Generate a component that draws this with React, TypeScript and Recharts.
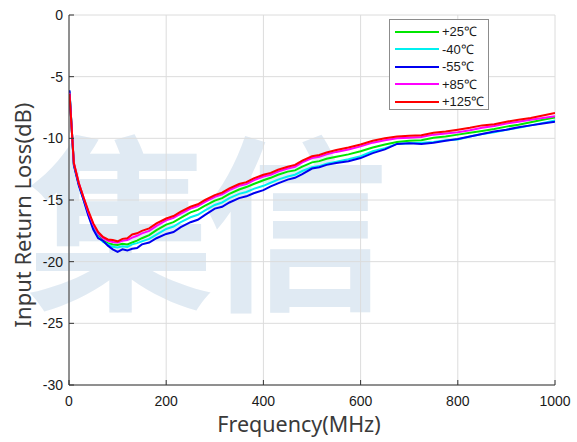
import React from 'react';
import { LineChart, Line, XAxis, YAxis, CartesianGrid, Legend } from 'recharts';

// Frequency (MHz)
const freqs = [1, 10, 20, 30, 40, 50, 60, 70, 80, 90, 100, 110, 120, 130, 140, 150, 165, 180, 200, 215, 230, 250, 265, 280, 300, 315, 330, 350, 365, 380, 400, 415, 430, 450, 465, 480, 500, 515, 530, 550, 575, 600, 625, 650, 675, 700, 725, 750, 775, 800, 825, 850, 875, 900, 925, 950, 975, 1000];

// Input return loss (dB) per temperature
const p25 = [-6.2, -12.1, -13.7, -14.9, -16.1, -17.1, -17.8, -18.3, -18.5, -18.6, -18.65, -18.55, -18.6, -18.45, -18.3, -18.1, -17.85, -17.45, -17.0, -16.8, -16.45, -16.0, -15.8, -15.45, -15.05, -14.85, -14.5, -14.15, -13.95, -13.7, -13.4, -13.2, -12.95, -12.7, -12.6, -12.3, -11.95, -11.85, -11.65, -11.5, -11.3, -11.05, -10.75, -10.5, -10.3, -10.2, -10.15, -9.95, -9.85, -9.7, -9.55, -9.4, -9.25, -9.05, -8.9, -8.7, -8.5, -8.3];
const m40 = [-6.2, -12.1, -13.7, -15.0, -16.2, -17.3, -18.0, -18.4, -18.6, -18.8, -18.85, -18.75, -18.8, -18.6, -18.5, -18.35, -18.15, -17.8, -17.35, -17.15, -16.8, -16.4, -16.2, -15.85, -15.4, -15.2, -14.85, -14.5, -14.35, -14.1, -13.85, -13.6, -13.35, -13.1, -12.95, -12.65, -12.35, -12.25, -12.05, -11.9, -11.7, -11.45, -11.05, -10.8, -10.45, -10.4, -10.35, -10.3, -10.15, -10.1, -9.85, -9.65, -9.5, -9.3, -9.15, -8.95, -8.75, -8.55];
const m55 = [-6.1, -12.2, -13.8, -15.0, -16.3, -17.4, -18.1, -18.3, -18.7, -19.0, -19.2, -19.0, -19.1, -18.95, -18.9, -18.6, -18.45, -18.1, -17.75, -17.6, -17.2, -16.8, -16.6, -16.2, -15.7, -15.55, -15.2, -14.85, -14.7, -14.45, -14.2, -13.9, -13.65, -13.35, -13.2, -12.9, -12.45, -12.35, -12.15, -12.0, -11.85, -11.6, -11.2, -10.9, -10.45, -10.4, -10.45, -10.35, -10.2, -10.05, -9.85, -9.65, -9.45, -9.3, -9.1, -8.95, -8.8, -8.65];
const p85 = [-6.3, -12.0, -13.6, -14.8, -16.0, -17.0, -17.7, -18.1, -18.3, -18.4, -18.45, -18.3, -18.25, -18.05, -17.9, -17.7, -17.5, -17.1, -16.65, -16.45, -16.1, -15.7, -15.5, -15.15, -14.75, -14.55, -14.2, -13.85, -13.7, -13.4, -13.1, -12.95, -12.7, -12.45, -12.3, -11.95, -11.6, -11.5, -11.3, -11.1, -10.9, -10.65, -10.35, -10.15, -10.0, -9.95, -9.9, -9.7, -9.6, -9.5, -9.35, -9.15, -9.0, -8.8, -8.65, -8.5, -8.35, -8.2];
const p125 = [-6.4, -12.0, -13.6, -14.8, -15.9, -16.9, -17.6, -18.0, -18.2, -18.25, -18.35, -18.15, -18.1, -17.8, -17.7, -17.5, -17.3, -16.9, -16.5, -16.3, -15.95, -15.55, -15.35, -15.0, -14.6, -14.4, -14.05, -13.7, -13.55, -13.25, -12.95, -12.8, -12.55, -12.3, -12.15, -11.8, -11.45, -11.35, -11.15, -10.95, -10.75, -10.5, -10.2, -10.0, -9.85, -9.8, -9.75, -9.55, -9.45, -9.3, -9.15, -8.95, -8.85, -8.65, -8.5, -8.35, -8.15, -7.95];

const seriesNames = ['+25℃', '-40℃', '-55℃', '+85℃', '+125℃'];
const seriesValues = [p25, m40, m55, p85, p125];
const seriesColors = ['#00e600', '#00f0f0', '#0000f0', '#ff00ff', '#ff0000'];

const xTicks = [0, 200, 400, 600, 800, 1000];
const yTicks = [0, -5, -10, -15, -20, -25, -30];

const xTitle = 'Frequency(MHz)';
const yTitle = 'Input Return Loss(dB)';
const watermark = '集信';

const data = freqs.map((f, i) => {
  const row: Record<string, number> = { f };
  seriesValues.forEach((arr, k) => {
    row['s' + k] = arr[i];
  });
  return row;
});

const AXIS = '#333333';
const TICK_FONT = '"Liberation Sans", Arial, sans-serif';
const TITLE_FONT = '"Noto Sans", "Open Sans", sans-serif';
const TICK_LEN = 5;

const BottomTick = (props: any) => {
  const { x, y, payload } = props;
  const axisY = y - 11;
  return (
    <g>
      <line x1={x} x2={x} y1={axisY} y2={axisY - TICK_LEN} stroke={AXIS} />
      <text x={x} y={y} dy="0.71em" textAnchor="middle" fontSize={14} fill="#1a1a1a" fontFamily={TICK_FONT}>
        {payload.value}
      </text>
    </g>
  );
};

const TopTick = (props: any) => {
  const { x, y } = props;
  return <line x1={x} x2={x} y1={y} y2={y + TICK_LEN} stroke={AXIS} />;
};

const LeftTick = (props: any) => {
  const { x, y, payload } = props;
  const axisX = x + 6;
  return (
    <g>
      <line x1={axisX} x2={axisX + TICK_LEN} y1={y} y2={y} stroke={AXIS} />
      <text x={x} y={y} dy="0.355em" textAnchor="end" fontSize={14} fill="#1a1a1a" fontFamily={TICK_FONT}>
        {payload.value}
      </text>
    </g>
  );
};

const RightTick = (props: any) => {
  const { x, y } = props;
  return <line x1={x - TICK_LEN} x2={x} y1={y} y2={y} stroke={AXIS} />;
};

const XTitle = (props: any) => {
  const vb = props.viewBox || {};
  const cx = vb.x + vb.width / 2 - 13;
  return (
    <text x={cx} y={424} dy="0.35em" textAnchor="middle" fontSize={21.5} fill="#3a3a3a" fontFamily={TITLE_FONT}>
      {xTitle}
    </text>
  );
};

const YTitle = (props: any) => {
  const vb = props.viewBox || {};
  const cy = vb.y + vb.height / 2 + 15;
  return (
    <text x={23} y={cy} dy="0.35em" textAnchor="middle" fontSize={22} fill="#3a3a3a" fontFamily={TITLE_FONT} transform={`rotate(-90 23 ${cy})`}>
      {yTitle}
    </text>
  );
};

const LegendBox = (props: any) => {
  const payload = [...(props.payload || [])].sort(
    (a: any, b: any) => seriesNames.indexOf(a.value) - seriesNames.indexOf(b.value)
  );
  return (
    <div style={{ border: '1px solid #8c8c8c', background: '#fff', width: 100, height: 91, paddingTop: 3, boxSizing: 'border-box' }}>
      {payload.map((entry: any) => (
        <div key={entry.value} style={{ display: 'flex', alignItems: 'center', height: 17.5 }}>
          <svg width={52} height={10} style={{ flex: 'none' }}>
            <line x1={5} x2={49} y1={5} y2={5} stroke={entry.color} strokeWidth={2} />
          </svg>
          <span style={{ fontSize: 13, fontFamily: TICK_FONT, color: '#1a1a1a', lineHeight: '17px' }}>{entry.value}</span>
        </div>
      ))}
    </div>
  );
};

export default function App() {
  return (
    <div style={{ position: 'relative', width: 577, height: 442, background: '#fff' }}>
      <style>{'body{margin:0;}'}</style>
      <div
        style={{
          position: 'absolute',
          left: 27,
          top: 119,
          fontSize: 188,
          lineHeight: 1,
          letterSpacing: -14,
          fontFamily: '"Noto Sans CJK SC", sans-serif',
          fontWeight: 700,
          color: '#e0eaf3',
          whiteSpace: 'nowrap',
          userSelect: 'none',
        }}
      >
        {watermark}
      </div>
      <div style={{ position: 'absolute', left: 0, top: 0 }}>
        <LineChart width={577} height={442} data={data} margin={{ top: 15, right: 22, bottom: 0, left: 0 }}>
          <CartesianGrid stroke="#dcdcdc" strokeWidth={1} />
          <XAxis
            dataKey="f"
            type="number"
            domain={[0, 1000]}
            allowDataOverflow
            ticks={xTicks}
            interval={0}
            height={57}
            tickSize={0}
            tickMargin={11}
            tickLine={false}
            axisLine={{ stroke: AXIS }}
            tick={<BottomTick />}
            label={<XTitle />}
          />
          <XAxis
            xAxisId="top"
            orientation="top"
            dataKey="f"
            type="number"
            domain={[0, 1000]}
            allowDataOverflow
            ticks={xTicks}
            interval={0}
            height={0}
            tickSize={0}
            tickMargin={0}
            tickLine={false}
            axisLine={{ stroke: AXIS }}
            tick={<TopTick />}
          />
          <YAxis
            type="number"
            domain={[-30, 0]}
            allowDataOverflow
            ticks={yTicks}
            interval={0}
            width={69}
            tickSize={0}
            tickMargin={6}
            tickLine={false}
            axisLine={{ stroke: AXIS }}
            tick={<LeftTick />}
            label={<YTitle />}
          />
          <YAxis
            yAxisId="right"
            orientation="right"
            type="number"
            domain={[-30, 0]}
            allowDataOverflow
            ticks={yTicks}
            interval={0}
            width={0}
            tickSize={0}
            tickMargin={0}
            tickLine={false}
            axisLine={{ stroke: AXIS }}
            tick={<RightTick />}
          />
          <Legend
            layout="vertical"
            align="center"
            verticalAlign="middle"
            content={<LegendBox />}
            wrapperStyle={{ left: 389, top: 19, width: 100, height: 91 }}
          />
          {seriesNames.map((name, k) => (
            <Line
              key={name}
              name={name}
              dataKey={'s' + k}
              type="linear"
              stroke={seriesColors[k]}
              strokeWidth={2}
              dot={false}
              isAnimationActive={false}
            />
          ))}
        </LineChart>
      </div>
    </div>
  );
}
